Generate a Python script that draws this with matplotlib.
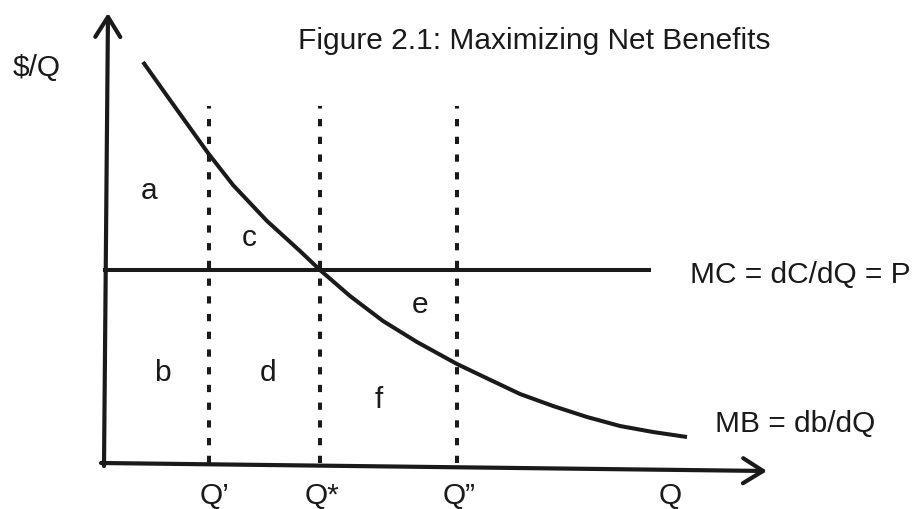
import matplotlib.pyplot as plt

plt.rcParams['font.family'] = ['Liberation Sans', 'DejaVu Sans']

# quantities marked on the Q axis
q_labels = ["Q’", "Q*", "Q”"]
q_values = [1.05, 2.16, 3.53]
q_label_x = [1.11, 2.18, 3.55]
q_top = 3.57

# marginal cost level
mc_level = 1.93
mc_end = 5.45

# marginal benefit curve
mb_q = [0.39, 0.66, 1.04, 1.29, 1.63, 1.96, 2.16, 2.46, 2.79, 3.13, 3.53,
        3.76, 4.16, 4.49, 4.83, 5.16, 5.49, 5.83]
mb_p = [4.01, 3.63, 3.10, 2.78, 2.42, 2.12, 1.93, 1.67, 1.42, 1.21, 0.99,
        0.88, 0.69, 0.57, 0.46, 0.37, 0.31, 0.26]

# area labels
area_names = ["a", "b", "c", "d", "e", "f"]
area_q = [0.45, 0.58, 1.45, 1.64, 3.16, 2.75]
area_p = [2.65, 0.83, 2.18, 0.83, 1.51, 0.56]

ink = "#1a1a1a"
fig = plt.figure(figsize=(9.16, 5.10), dpi=100)
ax = fig.add_axes([0, 0, 1, 1])
ax.set_xlim(-1.04, 8.12)
ax.set_ylim(-0.46, 4.64)
ax.axis("off")

arrow = dict(arrowstyle="->,head_length=0.72,head_width=0.45", lw=3.0, color=ink,
             shrinkA=0, shrinkB=0, mutation_scale=20)
# axes with open arrowheads
ax.annotate("", xy=(0.04, 4.50), xytext=(0.0, -0.03), arrowprops=arrow)
ax.annotate("", xy=(6.63, -0.08), xytext=(-0.03, 0.0), arrowprops=arrow)

# dotted quantity markers
for q in q_values:
    ax.plot([q, q], [0, q_top], color=ink, lw=2.9, linestyle=(0, (1.8, 2.6)))

ax.plot([0.01, mc_end], [mc_level, mc_level], color=ink, lw=2.9)
ax.plot(mb_q, mb_p, color=ink, lw=2.9, solid_capstyle="butt", solid_joinstyle="round")

fs = 21.5
for name, x, y in zip(area_names, area_q, area_p):
    ax.text(x, y, name, fontsize=fs, ha="center", va="baseline", color=ink)

for name, x in zip(q_labels, q_label_x):
    ax.text(x, -0.40, name, fontsize=fs, ha="center", va="baseline", color=ink)
ax.text(5.66, -0.40, "Q", fontsize=fs, ha="center", va="baseline", color=ink)

ax.text(-0.67, 3.88, "$/Q", fontsize=fs, ha="center", va="baseline", color=ink)
ax.text(5.86, 1.81, "MC = dC/dQ = P", fontsize=fs, ha="left", va="baseline", color=ink)
ax.text(6.11, 0.32, "MB = db/dQ", fontsize=fs, ha="left", va="baseline", color=ink)
ax.text(1.94, 4.15, "Figure 2.1: Maximizing Net Benefits", fontsize=fs, ha="left",
        va="baseline", color=ink)

fig.savefig("out.png", dpi=100)
